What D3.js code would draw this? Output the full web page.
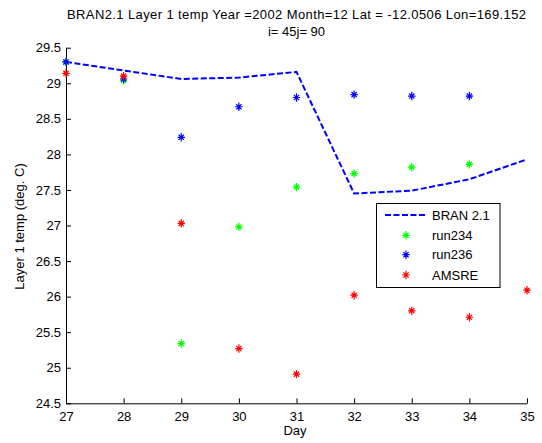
<!DOCTYPE html>
<html><head><meta charset="utf-8">
<script src="https://cdn.jsdelivr.net/npm/d3@7"></script>
<style>body{margin:0;background:#fff}svg{display:block}text{font-family:"Liberation Sans",Arial,sans-serif}</style>
</head><body>
<svg id="c" width="542" height="443"></svg>
<script>
const days = [27, 28, 29, 30, 31, 32, 33, 34, 35];
const bran = [29.30, 29.18, 29.06, 29.08, 29.16, 27.45, 27.49, 27.65, 27.93];
const run234 = [29.30, 29.04, 25.34, 26.98, 27.54, 27.73, 27.82, 27.86, null];
const run236 = [29.30, 29.06, 28.24, 28.67, 28.80, 28.84, 28.82, 28.82, null];
const amsre = [29.14, 29.10, 27.03, 25.27, 24.91, 26.02, 25.80, 25.71, 26.09];
const xTicks = [27, 28, 29, 30, 31, 32, 33, 34, 35];
const yTicks = [24.5, 25, 25.5, 26, 26.5, 27, 27.5, 28, 28.5, 29, 29.5];
const titleLines = ["BRAN2.1 Layer 1 temp Year =2002 Month=12 Lat = -12.0506 Lon=169.152", "i= 45j= 90"];
const legendLabels = ["BRAN 2.1", "run234", "run236", "AMSRE"];

const FS = 13;
const svg = d3.select("#c");
const L = 66, R = 527, T = 47.7, B = 403.3;
const x = d3.scaleLinear().domain([27, 35]).range([L, R]);
const y = d3.scaleLinear().domain([24.5, 29.5]).range([B, T]);

// axes
const xa = svg.append("g").attr("transform", `translate(0,${B})`)
  .call(d3.axisBottom(x).tickValues(xTicks).tickFormat(d3.format("d")).tickSizeInner(-5).tickSizeOuter(0).tickPadding(8));
const ya = svg.append("g").attr("transform", `translate(${L},0)`)
  .call(d3.axisLeft(y).tickValues(yTicks).tickFormat(d => String(d)).tickSizeInner(-5).tickSizeOuter(0).tickPadding(5));
[xa, ya].forEach(g => {
  g.selectAll("path,line").attr("stroke", "#000").attr("stroke-width", 1);
  g.selectAll("text").attr("font-size", FS).attr("fill", "#000").attr("font-family", '"Liberation Sans",Arial,sans-serif');
});

// line
const line = d3.line().x((d, i) => x(days[i])).y(d => y(d));
svg.append("path").datum(bran).attr("d", line).attr("fill", "none")
  .attr("stroke", "#0000ff").attr("stroke-width", 2).attr("stroke-dasharray", "6,2.5");

function star(g, cx, cy, color) {
  const sx = 3.7, sy = 4.2, d = 2.6;
  const p = `M${cx - sx},${cy}L${cx + sx},${cy}M${cx},${cy - sy}L${cx},${cy + sy}` +
    `M${cx - d},${cy - d}L${cx + d},${cy + d}M${cx - d},${cy + d}L${cx + d},${cy - d}`;
  g.append("path").attr("d", p).attr("stroke", color).attr("stroke-width", 1.2).attr("fill", "none");
}
const series = [[run234, "#00ff00"], [run236, "#0000ff"], [amsre, "#ff0000"]];
series.forEach(([vals, col]) => {
  const g = svg.append("g");
  vals.forEach((v, i) => { if (v != null) star(g, x(days[i]), y(v), col); });
});

// title
const cx = (L + R) / 2;
svg.append("text").attr("x", cx).attr("y", 18.5).attr("text-anchor", "middle").attr("font-size", FS)
  .attr("textLength", 459).attr("lengthAdjust", "spacing").text(titleLines[0]);
svg.append("text").attr("x", cx).attr("y", 35.5).attr("text-anchor", "middle").attr("font-size", FS).text(titleLines[1]);

// axis labels
svg.append("text").attr("x", 295).attr("y", 435).attr("text-anchor", "middle").attr("font-size", FS).text("Day");
svg.append("text").attr("transform", `translate(24,${(T + B) / 2 + 1}) rotate(-90)`).attr("text-anchor", "middle").attr("font-size", FS).text("Layer 1 temp (deg. C)");

// legend
const lg = svg.append("g");
lg.append("rect").attr("x", 376.5).attr("y", 203.5).attr("width", 123.5).attr("height", 84)
  .attr("fill", "#fff").attr("stroke", "#000").attr("stroke-width", 1);
const ly = [215, 235.3, 254.7, 275];
lg.append("line").attr("x1", 385).attr("x2", 425.5).attr("y1", ly[0]).attr("y2", ly[0])
  .attr("stroke", "#0000ff").attr("stroke-width", 2).attr("stroke-dasharray", "6,2.5");
series.forEach(([, col], i) => star(lg, 406, ly[i + 1], col));
legendLabels.forEach((t, i) => lg.append("text").attr("x", 432).attr("y", ly[i] + 4.7).attr("font-size", FS).text(t));
</script>
</body></html>
